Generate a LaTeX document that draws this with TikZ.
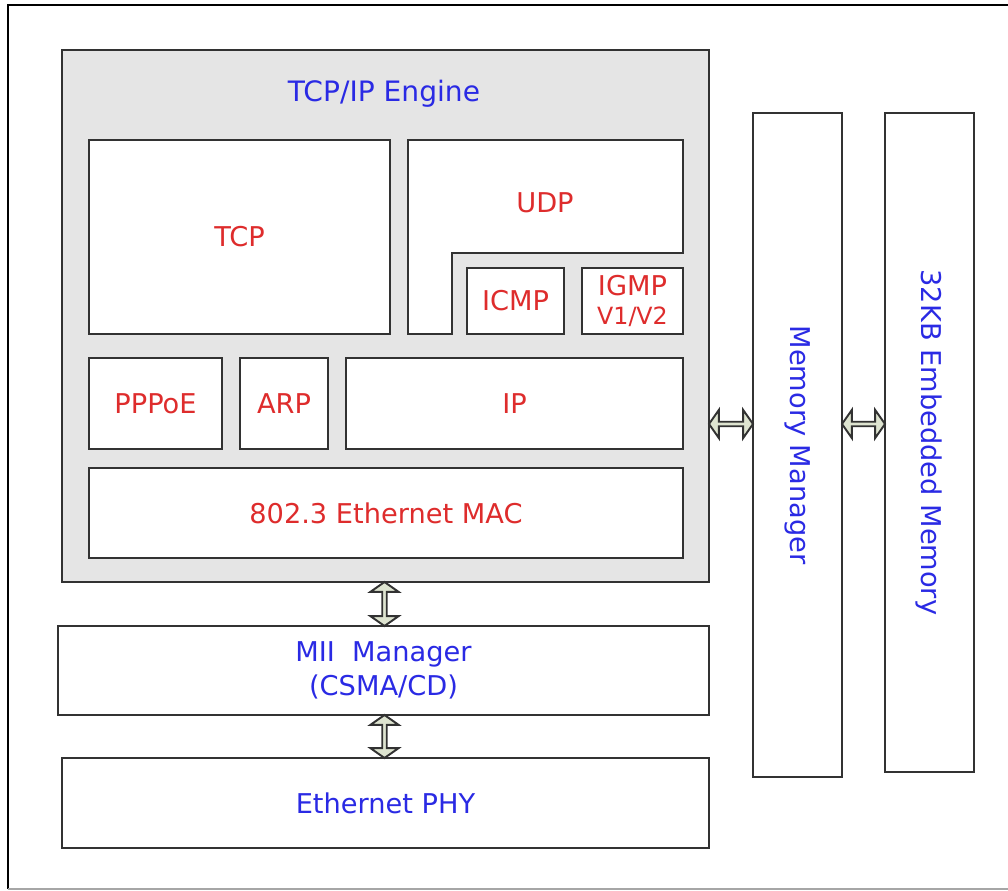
\documentclass[tikz,border=0pt]{standalone}
\usepackage{fontspec}
\setmainfont{DejaVu Sans}
\usetikzlibrary{calc,shapes.arrows}
\definecolor{txtred}{RGB}{222,44,44}
\definecolor{txtblue}{RGB}{42,42,228}
\definecolor{enggray}{RGB}{229,229,229}
\definecolor{boxline}{RGB}{50,50,50}
\definecolor{arrfill}{RGB}{222,228,208}
\def\pxu{0.02cm}
\tikzset{
  blk/.style={draw=boxline, line width=1.5pt, fill=white, inner sep=0pt,
    font=\fontsize{15.5}{19}\selectfont, align=center},
  redtxt/.style={text=txtred},
  bluetxt/.style={text=txtblue},
  dblarrow/.style={double arrow, draw=boxline, fill=arrfill, line width=1.1pt,
    inner sep=0pt, minimum width=28*\pxu, double arrow head extend=5*\pxu,
    double arrow tip angle=110}
}
\begin{document}
\begin{tikzpicture}[x=0.02cm, y=-0.02cm]
  \clip (0,0) rectangle (1008,891);
  % outer frame
  \draw[line width=1.6pt, black] (1030,5) -- (8,5) -- (8,889);
  \draw[line width=1.6pt, gray!70] (8,889) -- (1030,889);

  % engine and its blocks
  \node (engine) at (385.5,316) [blk, fill=enggray, minimum width=647*\pxu, minimum height=532*\pxu] {};
  \node (engtitle) at (384,94) [bluetxt, font=\fontsize{16}{19}\selectfont] {TCP/IP Engine};
  \node (tcp) at (239.5,237) [blk, redtxt, minimum width=301*\pxu, minimum height=194*\pxu] {TCP};
  \draw[draw=boxline, line width=1.5pt, fill=white]
    (408,140) -- (683,140) -- (683,253) -- (452,253) -- (452,334) -- (408,334) -- cycle;
  \node (udp) at (545,203) [redtxt, font=\fontsize{15.5}{19}\selectfont] {UDP};
  \node (icmp) at (515.5,301) [blk, redtxt, minimum width=97*\pxu, minimum height=66*\pxu] {ICMP};
  \node (igmp) at (632.5,301) [blk, redtxt, minimum width=101*\pxu, minimum height=66*\pxu]
    {IGMP\\[-3pt]{\fontsize{13.5}{16}\selectfont V1/V2}};
  \node (pppoe) at (155.5,403.5) [blk, redtxt, minimum width=133*\pxu, minimum height=91*\pxu] {PPPoE};
  \node (arp) at (284,403.5) [blk, redtxt, minimum width=88*\pxu, minimum height=91*\pxu] {ARP};
  \node (ip) at (514.5,403.5) [blk, redtxt, minimum width=337*\pxu, minimum height=91*\pxu] {IP};
  \node (mac) at (386,513) [blk, redtxt, minimum width=594*\pxu, minimum height=90*\pxu] {802.3 Ethernet MAC};

  % lower blocks
  \node (mii) at (383.5,670.5) [blk, bluetxt, minimum width=651*\pxu, minimum height=89*\pxu] {MII\ \ Manager\\(CSMA/CD)};
  \node (phy) at (385.5,803) [blk, bluetxt, minimum width=647*\pxu, minimum height=90*\pxu] {Ethernet PHY};

  % memory columns
  \node (memmgr) at (797.5,445) [blk, bluetxt, minimum width=89*\pxu, minimum height=664*\pxu] {\rotatebox{-90}{Memory Manager}};
  \node (embmem) at (929.5,442.5) [blk, bluetxt, minimum width=89*\pxu, minimum height=659*\pxu] {\rotatebox{-90}{32KB Embedded Memory}};

  % double arrows
  \coordinate (arrrow) at (0,424);
  \node (a1) at ($(engine.south)!.5!(mii.north)$) [dblarrow, rotate=90, minimum height=44*\pxu] {};
  \node (a2) at ($(mii.south)!.5!(phy.north)$) [dblarrow, rotate=90, minimum height=43*\pxu] {};
  \node (a3) at ($(engine.east |- arrrow)!.5!(memmgr.west |- arrrow)$) [dblarrow, minimum height=44*\pxu] {};
  \node (a4) at ($(memmgr.east |- arrrow)!.5!(embmem.west |- arrrow)$) [dblarrow, minimum height=43*\pxu] {};
\end{tikzpicture}
\end{document}
